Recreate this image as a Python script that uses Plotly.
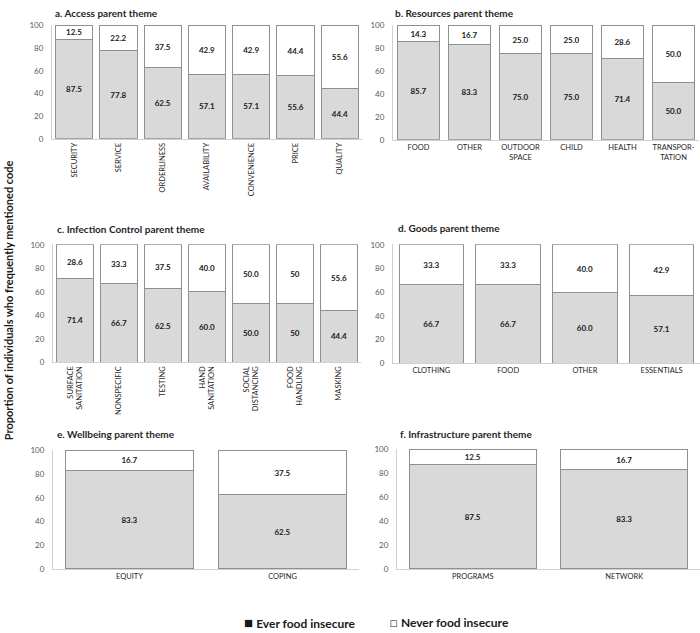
import plotly.graph_objects as go

# ---------------- data ----------------
a_cats = ["SECURITY", "SERVICE", "ORDERLINESS", "AVAILABILITY", "CONVENIENCE", "PRICE", "QUALITY"]
a_ever = [87.5, 77.8, 62.5, 57.1, 57.1, 55.6, 44.4]
a_never = [12.5, 22.2, 37.5, 42.9, 42.9, 44.4, 55.6]

b_cats = ["FOOD", "OTHER", "OUTDOOR<br>SPACE", "CHILD", "HEALTH", "TRANSPOR-<br>TATION"]
b_ever = [85.7, 83.3, 75.0, 75.0, 71.4, 50.0]
b_never = [14.3, 16.7, 25.0, 25.0, 28.6, 50.0]

c_cats = ["SURFACE<br>SANITATION", "NONSPECIFIC", "TESTING", "HAND<br>SANITATION",
          "SOCIAL<br>DISTANCING", "FOOD<br>HANDLING", "MASKING"]
c_ever = [71.4, 66.7, 62.5, 60.0, 50.0, 50, 44.4]
c_never = [28.6, 33.3, 37.5, 40.0, 50.0, 50, 55.6]
c_ever_labels = ["71.4", "66.7", "62.5", "60.0", "50.0", "50", "44.4"]
c_never_labels = ["28.6", "33.3", "37.5", "40.0", "50.0", "50", "55.6"]

d_cats = ["CLOTHING", "FOOD", "OTHER", "ESSENTIALS"]
d_ever = [66.7, 66.7, 60.0, 57.1]
d_never = [33.3, 33.3, 40.0, 42.9]

e_cats = ["EQUITY", "COPING"]
e_ever = [83.3, 62.5]
e_never = [16.7, 37.5]

f_cats = ["PROGRAMS", "NETWORK"]
f_ever = [87.5, 83.3]
f_never = [12.5, 16.7]

titles = ["a. Access parent theme", "b. Resources parent theme",
          "c. Infection Control parent theme", "d. Goods parent theme",
          "e. Wellbeing parent theme", "f. Infrastructure parent theme"]
y_ticks = [0, 20, 40, 60, 80, 100]
legend_names = ["Ever food insecure", "Never food insecure"]
y_title = "Proportion of individuals who frequently mentioned code"

# ---------------- layout helpers ----------------
W, H = 700, 633
FONT = "Lato, 'Open Sans', sans-serif"
GREY_FILL = "#d9d9d9"
OUTLINE = "#8f8f8f"


def px_x(v):
    return v / W


def px_y(v):
    return 1 - v / H


def fmt(vals):
    return [f"{v:.1f}" for v in vals]


panels = [
    # cats, ever, never, ever_labels, never_labels, x0,x1,y_top,y_bot, angle, title pos
    (a_cats, a_ever, a_never, fmt(a_ever), fmt(a_never), 52, 362, 20, 136, -90, (53, 8)),
    (b_cats, b_ever, b_never, fmt(b_ever), fmt(b_never), 393, 699, 20, 137, 0, (393, 8)),
    (c_cats, c_ever, c_never, c_ever_labels, c_never_labels, 53, 361, 243, 363, -90, (55, 228)),
    (d_cats, d_ever, d_never, fmt(d_ever), fmt(d_never), 393, 700, 243, 364, 0, (396, 227)),
    (e_cats, e_ever, e_never, fmt(e_ever), fmt(e_never), 53, 359, 452, 573, 0, (55, 436)),
    (f_cats, f_ever, f_never, fmt(f_ever), fmt(f_never), 397, 700, 451, 573, 0, (398, 436)),
]

fig = go.Figure()
layout = dict(
    width=W, height=H,
    margin=dict(l=0, r=0, t=0, b=0),
    paper_bgcolor="white", plot_bgcolor="white",
    barmode="stack", bargap=0.16,
    showlegend=False,
    font=dict(family=FONT, size=8, color="#262626"),
    uniformtext=dict(minsize=8, mode="show"),
)
annotations = []

for i, (cats, ever, never, el, nl, x0, x1, yt, yb, ang, tpos) in enumerate(panels):
    n = "" if i == 0 else str(i + 1)
    xa, ya = "x" + n, "y" + n
    for vals, labels, color in ((ever, el, GREY_FILL), (never, nl, "white")):
        fig.add_trace(go.Bar(
            x=cats, y=vals, text=labels, texttemplate="<b>%{text}</b>",
            textposition="inside", insidetextanchor="middle",
            textfont=dict(size=8, color="#1a1a1a", family=FONT),
            marker=dict(color=color, line=dict(color=OUTLINE, width=1)),
            xaxis=xa, yaxis=ya, hoverinfo="skip", cliponaxis=False,
        ))
    layout["xaxis" + n] = dict(
        domain=[px_x(x0), px_x(x1)], anchor=ya,
        showline=True, linecolor="#d0d0d0", linewidth=1,
        ticks="", tickangle=ang, showgrid=False,
        tickfont=dict(size=7.5, color="#262626", family=FONT),
        fixedrange=True,
    )
    layout["yaxis" + n] = dict(
        domain=[px_y(yb), px_y(yt)], anchor=xa,
        range=[0, 100.6], tickvals=y_ticks, showgrid=False,
        showline=True, linecolor="#d0d0d0", linewidth=1,
        zeroline=False, ticks="", ticklabelstandoff=6,
        tickfont=dict(size=8, color="#595959", family=FONT),
        fixedrange=True,
    )
    annotations.append(dict(
        text="<b>" + titles[i] + "</b>", xref="paper", yref="paper",
        x=px_x(tpos[0]), y=px_y(tpos[1]), xanchor="left", yanchor="middle",
        showarrow=False, font=dict(size=10, color="#262626", family=FONT),
    ))

annotations.append(dict(
    text="<b>" + y_title + "</b>", xref="paper", yref="paper",
    x=px_x(8), y=px_y(300), textangle=-90, xanchor="center", yanchor="middle",
    showarrow=False, font=dict(size=11, color="#1a1a1a", family=FONT),
))
annotations.append(dict(
    text="<span style='font-size:15px'>■</span> <b>" + legend_names[0] + "</b>",
    xref="paper", yref="paper",
    x=px_x(242), y=px_y(627), xanchor="left", yanchor="middle",
    showarrow=False, font=dict(size=12, color="#1a1a1a", family=FONT),
))
annotations.append(dict(
    text="<span style='font-size:13px;color:#666666'>□</span> <b>" + legend_names[1] + "</b>",
    xref="paper", yref="paper",
    x=px_x(388), y=px_y(627), xanchor="left", yanchor="middle",
    showarrow=False, font=dict(size=12, color="#1a1a1a", family=FONT),
))
layout["annotations"] = annotations
fig.update_layout(**layout)
fig.write_html("out.html", config=dict(displayModeBar=False))
